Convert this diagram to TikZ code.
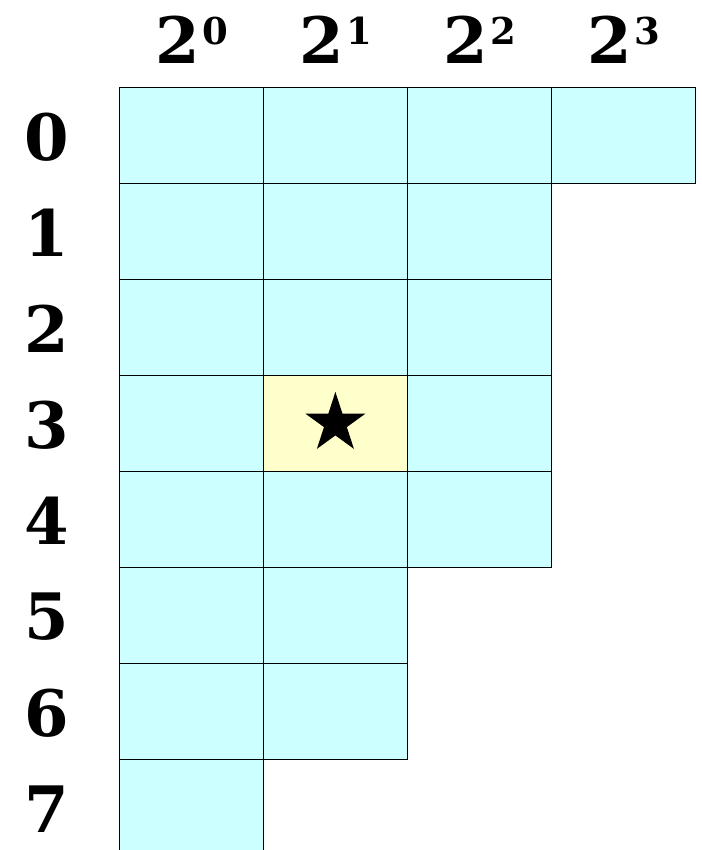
\documentclass[tikz,border=0pt]{standalone}
\usepackage{fontspec}
\setmainfont{DejaVu Serif}
\usepackage{tikz}
\usetikzlibrary{shapes.geometric}
\definecolor{cellcyan}{HTML}{CCFFFF}
\definecolor{cellyellow}{HTML}{FFFFCC}
\newcommand\Fill{cellcyan}
\newcommand\Sup[1]{\raisebox{19.5pt}{\fontsize{37}{38}\selectfont #1}}

\begin{document}
\begin{tikzpicture}[x=1pt, y=-1pt,
    cell/.style={draw, line width=0.8pt, minimum width=144pt, minimum height=96pt, inner sep=0pt, anchor=north west},
    lbl/.style={font=\bfseries\fontsize{64}{66}\selectfont, inner sep=0pt}]
                \useasboundingbox (0,0) rectangle (701,850);
                \clip (0,0) rectangle (701,850);

                \foreach \j/\n in {0/8, 1/7, 2/5, 3/1}{
                  \node[lbl] (h\j) at (192+144*\j, 40) {2\kern3pt\Sup{\j}};
                  \pgfmathtruncatemacro\last{\n-1}
                  \foreach \i in {0,...,\last}{
                    \ifnum\numexpr10*\j+\i\relax=13 %
                        \renewcommand\Fill{cellyellow}
                    \else
                        \renewcommand\Fill{cellcyan}
                    \fi
                    \node[cell, fill = {\Fill}] at (119+144*\j, 87+96*\i) (c\j-\i) {};
                  }
                }

                \foreach \i in {0,1,...,7}{
                  \node[lbl] at (47, 137+96*\i) (r\i) {\i};
                }

                \node[star, star points=5, star point ratio=2.618, fill=black, minimum size=63pt, inner sep=0pt] at (c1-3.center) (pick) {};
            \end{tikzpicture}
\end{document}
